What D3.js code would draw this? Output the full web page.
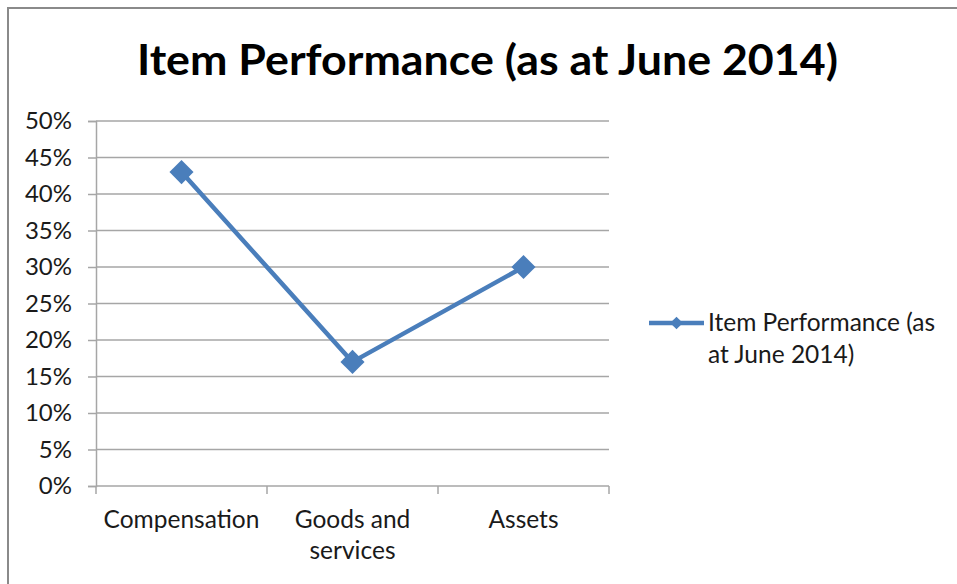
<!DOCTYPE html>
<html>
<head>
<meta charset="utf-8">
<script src="https://cdn.jsdelivr.net/npm/d3@7"></script>
<style>
  html, body { margin: 0; padding: 0; background: #fff; }
  svg { display: block; }
  text { font-family: Lato, "Open Sans", sans-serif; fill: #1a1a1a; }
</style>
</head>
<body>
<svg id="chart" width="957" height="584"></svg>
<script>
// Item performance figures, as at June 2014
const title = "Item Performance (as at June 2014)";
const seriesName = ["Item Performance (as", "at June 2014)"];
const categories = ["Compensation", "Goods and services", "Assets"];
const categoryLines = [["Compensation"], ["Goods and", "services"], ["Assets"]];
const values = [0.43, 0.17, 0.30];
const yTicks = [0, 0.05, 0.10, 0.15, 0.20, 0.25, 0.30, 0.35, 0.40, 0.45, 0.50];

const lineColor = "#4a7ebb";
const gridColor = "#a6a6a6";
const labelSize = 24.5;

const svg = d3.select("#chart");
const plot = { left: 96, right: 609, top: 121, bottom: 486 };

// outer chart frame (top and left edges)
svg.append("path")
  .attr("d", "M8,584 L8,8 L957,8")
  .attr("fill", "none")
  .attr("stroke", "#8a8a8a")
  .attr("stroke-width", 2);

// title
svg.append("text")
  .attr("x", 487.5)
  .attr("y", 75)
  .attr("text-anchor", "middle")
  .attr("font-weight", 700)
  .attr("font-size", 42)
  .attr("textLength", 701)
  .attr("lengthAdjust", "spacingAndGlyphs")
  .style("fill", "#000")
  .text(title);

const x = d3.scaleBand().domain(categories).range([plot.left, plot.right]);
const y = d3.scaleLinear().domain([0, 0.5]).range([plot.bottom, plot.top]);

// horizontal gridlines
svg.append("g")
  .selectAll("line")
  .data(yTicks.filter(d => d > 0))
  .join("line")
  .attr("x1", plot.left).attr("x2", plot.right)
  .attr("y1", d => y(d)).attr("y2", d => y(d))
  .attr("stroke", gridColor)
  .attr("stroke-width", 1.5);

// y axis
const yAxis = svg.append("g")
  .attr("transform", `translate(${plot.left},0)`)
  .call(d3.axisLeft(y).tickValues(yTicks).tickFormat(d3.format(".0%")).tickSize(8).tickPadding(16));
yAxis.select(".domain").attr("stroke", gridColor).attr("stroke-width", 1.5);
yAxis.selectAll(".tick line").attr("stroke", gridColor).attr("stroke-width", 1.5);
yAxis.selectAll(".tick text")
  .attr("font-size", 24)
  .attr("font-family", "Lato, 'Open Sans', sans-serif")
  .style("fill", "#1a1a1a");

// x axis: ticks on category boundaries
const xAxis = svg.append("g").attr("transform", `translate(0,${plot.bottom})`);
xAxis.append("line")
  .attr("x1", plot.left).attr("x2", plot.right)
  .attr("stroke", gridColor).attr("stroke-width", 1.5);
const boundaries = categories.map(c => x(c)).concat([x(categories[categories.length - 1]) + x.bandwidth()]);
xAxis.selectAll("line.tick")
  .data(boundaries)
  .join("line")
  .attr("class", "tick")
  .attr("x1", d => d).attr("x2", d => d)
  .attr("y1", 0).attr("y2", 8)
  .attr("stroke", gridColor).attr("stroke-width", 1.5);

const labels = xAxis.selectAll("text.cat")
  .data(categories)
  .join("text")
  .attr("class", "cat")
  .attr("text-anchor", "middle")
  .attr("font-size", labelSize)
  .attr("x", d => x(d) + x.bandwidth() / 2)
  .attr("y", 42);
labels.each(function(d, i) {
  const t = d3.select(this);
  categoryLines[i].forEach((line, j) => {
    t.append("tspan")
      .attr("x", x(d) + x.bandwidth() / 2)
      .attr("dy", j === 0 ? 0 : 31)
      .text(line);
  });
});

// series line
const pts = categories.map((c, i) => [x(c) + x.bandwidth() / 2, y(values[i])]);
svg.append("path")
  .attr("d", d3.line()(pts))
  .attr("fill", "none")
  .attr("stroke", lineColor)
  .attr("stroke-width", 4.5)
  .attr("stroke-linejoin", "round");

// diamond markers
const diamond = d3.symbol().type(d3.symbolSquare).size(290);
svg.append("g")
  .selectAll("path")
  .data(pts)
  .join("path")
  .attr("d", diamond)
  .attr("transform", d => `translate(${d[0]},${d[1]}) rotate(45)`)
  .attr("fill", lineColor);

// legend
const lg = svg.append("g").attr("transform", "translate(649,323)");
lg.append("line")
  .attr("x1", 0).attr("x2", 55)
  .attr("stroke", lineColor).attr("stroke-width", 4.5);
lg.append("path")
  .attr("d", d3.symbol().type(d3.symbolSquare).size(80))
  .attr("transform", "translate(27.5,0) rotate(45)")
  .attr("fill", lineColor);
const lt = lg.append("text").attr("font-size", labelSize).attr("x", 59).attr("y", 8);
seriesName.forEach((line, j) => {
  lt.append("tspan").attr("x", 59).attr("dy", j === 0 ? 0 : 32).text(line);
});
</script>
</body>
</html>
